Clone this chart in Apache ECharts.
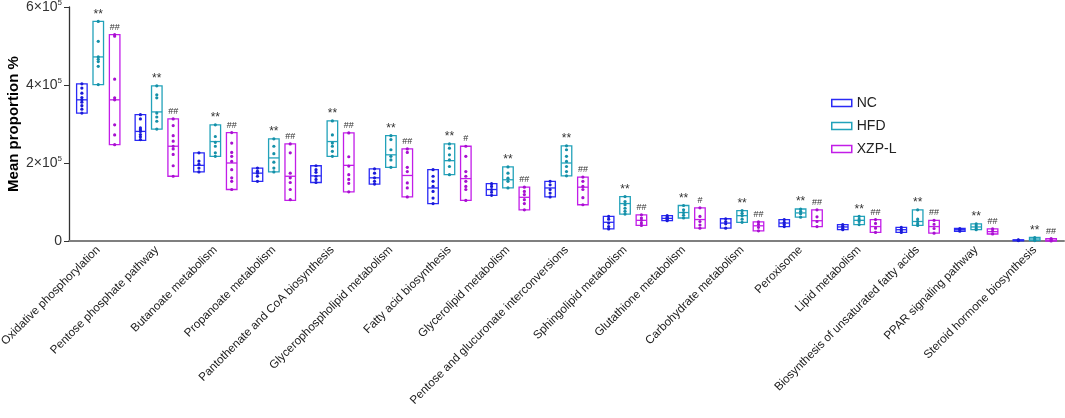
<!DOCTYPE html>
<html lang="en">
<head>
    <meta charset="UTF-8">
    <title>Mean proportion</title>
    <script src="https://cdn.jsdelivr.net/npm/echarts@6/dist/echarts.min.js"></script>
    <style>
        html, body { margin: 0; padding: 0; background: #fff; }
        #container { width: 1065px; height: 418px; }
    </style>
</head>
<body>
<div id="container"></div>
<script type="text/javascript">
// values in units of 10^5
var categories = [
    'Oxidative phosphorylation', 'Pentose phosphate pathway', 'Butanoate metabolism',
    'Propanoate metabolism', 'Pantothenate and CoA biosynthesis', 'Glycerophospholipid metabolism',
    'Fatty acid biosynthesis', 'Glycerolipid metabolism', 'Pentose and glucuronate interconversions',
    'Sphingolipid metabolism', 'Glutathione metabolism', 'Carbohydrate metabolism',
    'Peroxisome', 'Lipid metabolism', 'Biosynthesis of unsaturated fatty acids',
    'PPAR signaling pathway', 'Steroid hormone biosynthesis'
];
var yTicks = [0, 2, 4, 6];

// [min, median, max]
var ncBox = [[3.28,3.62,4.03],[2.58,2.81,3.24],[1.77,1.94,2.26],[1.53,1.74,1.87],[1.50,1.67,1.93],
    [1.46,1.62,1.85],[0.96,1.36,1.83],[1.17,1.32,1.47],[1.13,1.36,1.53],[0.31,0.48,0.63],
    [0.52,0.58,0.65],[0.33,0.46,0.57],[0.37,0.46,0.55],[0.29,0.36,0.42],[0.22,0.29,0.35],
    [0.25,0.29,0.32],[0.01,0.02,0.03]];
var hfdBox = [[4.01,4.72,5.63],[2.87,3.31,3.98],[2.17,2.55,2.98],[1.77,2.13,2.62],[2.17,2.55,3.08],
    [1.89,2.21,2.70],[1.70,2.06,2.49],[1.36,1.57,1.90],[1.67,2.00,2.44],[0.69,0.96,1.14],
    [0.59,0.73,0.91],[0.48,0.65,0.78],[0.61,0.72,0.82],[0.42,0.53,0.63],[0.40,0.50,0.80],
    [0.29,0.36,0.44],[0.01,0.05,0.09]];
var xzpBox = [[2.47,3.62,5.29],[1.66,2.43,3.13],[1.32,2.00,2.78],[1.04,1.66,2.49],[1.26,1.94,2.77],
    [1.13,1.68,2.36],[1.04,1.60,2.43],[0.80,1.12,1.38],[0.93,1.38,1.64],[0.40,0.53,0.67],
    [0.33,0.55,0.85],[0.26,0.39,0.49],[0.37,0.52,0.80],[0.22,0.37,0.55],[0.20,0.37,0.53],
    [0.18,0.24,0.31],[0.00,0.02,0.06]];

var ncPts = [[4.03,3.92,3.79,3.68,3.62,3.56,3.47,3.38,3.28],[3.24,3.13,2.90,2.85,2.81,2.73,2.67,2.60],
    [2.26,2.05,1.97,1.87,1.77],[1.87,1.79,1.74,1.66,1.53],[1.93,1.83,1.76,1.66,1.58,1.50],
    [1.85,1.74,1.62,1.53,1.46],[1.83,1.66,1.53,1.40,1.27,1.10,0.96],[1.47,1.40,1.32,1.25,1.17],
    [1.53,1.44,1.32,1.23,1.13],[0.63,0.56,0.46,0.37,0.31],[0.65,0.61,0.58,0.55,0.52],
    [0.57,0.50,0.44,0.33],[0.55,0.48,0.42,0.37],[0.42,0.38,0.33,0.29],[0.35,0.30,0.26,0.22],
    [0.32,0.29,0.25],[0.03,0.02,0.01]];
var hfdPts = [[5.63,5.12,4.72,4.66,4.60,4.48,4.01],[3.98,3.75,3.67,3.28,3.18,3.07,2.87],
    [2.98,2.68,2.53,2.43,2.26,2.17],[2.62,2.43,2.24,2.02,1.87,1.77],[3.08,2.72,2.51,2.43,2.30,2.17],
    [2.70,2.60,2.34,2.17,2.08,1.89],[2.49,2.38,2.21,2.08,1.91,1.70],[1.90,1.74,1.61,1.53,1.36],
    [2.44,2.34,2.17,2.04,1.91,1.78,1.67],[1.14,1.01,0.93,0.84,0.76,0.69],[0.91,0.80,0.73,0.66,0.59],
    [0.78,0.71,0.65,0.56,0.48],[0.82,0.76,0.70,0.61],[0.63,0.56,0.50,0.42],[0.80,0.56,0.50,0.44,0.40],
    [0.44,0.39,0.33,0.29],[0.09,0.05,0.01]];
var xzpPts = [[5.29,5.25,4.15,3.67,3.62,2.98,2.72,2.47],[3.13,2.96,2.70,2.56,2.43,2.36,2.22,1.93,1.66],
    [2.78,2.51,2.27,2.17,2.04,1.83,1.62,1.53,1.32],[2.49,2.26,1.74,1.62,1.50,1.32,1.06],
    [2.77,2.16,1.92,1.70,1.58,1.48,1.26],[2.36,2.27,1.89,1.78,1.49,1.36,1.13],
    [2.43,2.17,1.78,1.66,1.53,1.40,1.32,1.04],[1.38,1.27,1.19,1.06,0.96,0.80],
    [1.64,1.53,1.40,1.32,1.11,0.93],[0.67,0.59,0.53,0.46,0.40],[0.85,0.63,0.50,0.41,0.33],
    [0.49,0.43,0.35,0.26],[0.80,0.62,0.50,0.37],[0.55,0.45,0.33,0.22],[0.53,0.43,0.32,0.20],
    [0.31,0.25,0.18],[0.06,0.03,0.00]];

var ncSig = [];
var hfdSig = ['**','**','**','**','**','**','**','**','**','**','**','**','**','**','**','**','**'];
var xzpSig = ['##','##','##','##','##','##','#','##','##','##','#','##','##','##','##','##','##'];

var groups = [
    {name: 'NC', color: '#2a2af5', dot: '#1a1ad8', box: ncBox, pts: ncPts, sig: ncSig, off: -0.28},
    {name: 'HFD', color: '#22a2ba', dot: '#1590a8', box: hfdBox, pts: hfdPts, sig: hfdSig, off: 0},
    {name: 'XZP-L', color: '#c21de8', dot: '#a810d0', box: xzpBox, pts: xzpPts, sig: xzpSig, off: 0.28}
];

var FONT = "'Liberation Sans', Arial, sans-serif";

function makeRender(g) {
    return function (params, api) {
        var i = api.value(0);
        var b = g.box[i];
        var band = api.size([1, 0])[0];
        var cx = api.coord([i, 0])[0] + g.off * band;
        var w = band * 0.18;
        var yLo = api.coord([i, b[0]])[1];
        var yMed = api.coord([i, b[1]])[1];
        var yHi = api.coord([i, b[2]])[1];
        var children = [];
        children.push({
            type: 'rect',
            shape: {x: cx - w / 2, y: yHi, width: w, height: Math.max(yLo - yHi, 1)},
            style: {fill: 'none', stroke: g.color, lineWidth: 1.3}
        });
        children.push({
            type: 'line',
            shape: {x1: cx - w / 2, y1: yMed, x2: cx + w / 2, y2: yMed},
            style: {stroke: g.color, lineWidth: 1.3}
        });
        g.pts[i].forEach(function (v) {
            var p = api.coord([i, v]);
            children.push({
                type: 'circle',
                shape: {cx: cx, cy: p[1], r: 1.6},
                style: {fill: g.dot}
            });
        });
        if (g.sig[i]) {
            var star = g.sig[i].charAt(0) === '*';
            children.push({
                type: 'text',
                style: {
                    text: g.sig[i], x: cx, y: yHi - (star ? 1 : 3),
                    align: 'center', verticalAlign: 'bottom',
                    fontSize: star ? 12 : 9, fontFamily: FONT, fill: '#333'
                }
            });
        }
        return {type: 'group', children: children};
    };
}

var dom = document.getElementById('container');
var myChart = echarts.init(dom);

var series = groups.map(function (g) {
    return {
        name: g.name,
        type: 'custom',
        itemStyle: {color: g.color},
        renderItem: makeRender(g),
        encode: {x: 0, y: [1, 2]},
        data: categories.map(function (c, i) { return [i, g.box[i][0], g.box[i][2]]; }),
        z: 3
    };
});

var option = {
    animation: false,
    textStyle: {fontFamily: FONT},
    grid: {left: 69, right: 1, top: 7, bottom: 177, containLabel: false, outerBoundsMode: 'none'},
    legend: {
        orient: 'vertical',
        left: 826,
        top: 91,
        itemWidth: 20,
        itemHeight: 7,
        itemGap: 9,
        icon: 'rect',
        textStyle: {fontSize: 14, color: '#222', fontFamily: FONT},
        data: groups.map(function (g) {
            return {name: g.name, itemStyle: {color: '#fff', borderColor: g.color, borderWidth: 1.5}};
        })
    },
    xAxis: {
        type: 'category',
        data: categories,
        boundaryGap: true,
        axisLine: {lineStyle: {color: '#7f7f7f', width: 2}},
        axisTick: {alignWithLabel: true, length: 5, lineStyle: {color: '#555', width: 1.3}},
        axisLabel: {rotate: 45, interval: 0, fontSize: 11.7, color: '#222', margin: 7, fontFamily: FONT}
    },
    yAxis: {
        type: 'value',
        min: yTicks[0],
        max: yTicks[yTicks.length - 1],
        interval: 2,
        name: 'Mean proportion %',
        nameLocation: 'middle',
        nameGap: 48,
        nameMoveOverlap: false,
        nameTextStyle: {fontSize: 15, fontWeight: 'bold', color: '#000', fontFamily: FONT},
        splitLine: {show: false},
        axisLine: {show: true, lineStyle: {color: '#333', width: 1.3}},
        axisTick: {show: true, length: 5, lineStyle: {color: '#333'}},
        axisLabel: {
            color: '#333',
            margin: 7,
            formatter: function (v) {
                if (v === 0) return '{b|0}';
                return '{b|' + v + '×10}{s|5}';
            },
            rich: {
                b: {fontSize: 14, color: '#333', fontFamily: FONT},
                s: {fontSize: 8, color: '#333', fontFamily: FONT, padding: [0, 0, 8, 0]}
            }
        }
    },
    series: series
};

myChart.setOption(option);
</script>
</body>
</html>
